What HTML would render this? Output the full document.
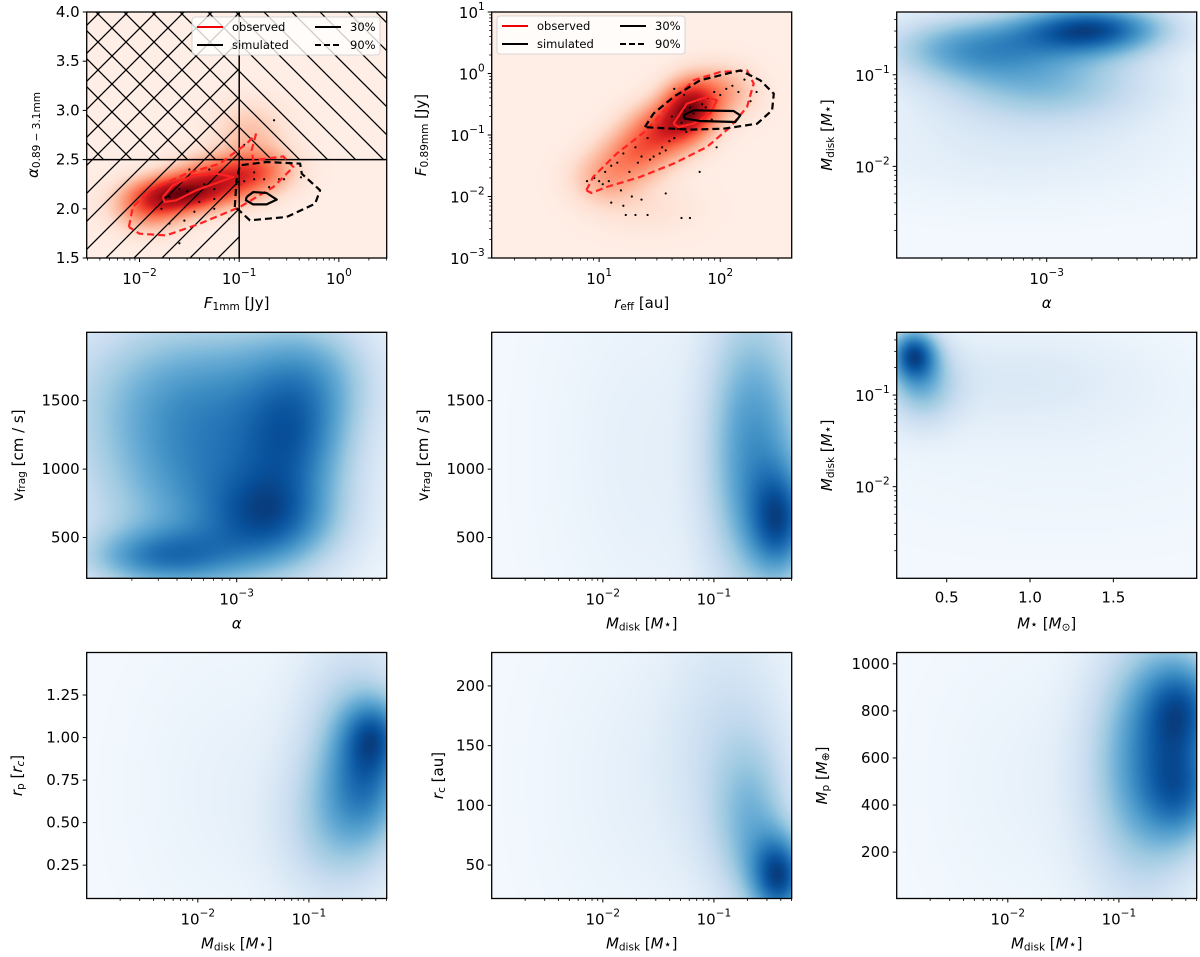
<!DOCTYPE html>
<html><head><meta charset="utf-8">
<style>
html,body{margin:0;padding:0;background:#fff;}
#wrap{position:relative;width:1200px;height:957px;overflow:hidden;}
canvas{position:absolute;}
svg{position:absolute;left:0;top:0;}
text{font-family:"DejaVu Sans","Liberation Sans",sans-serif;fill:#000;}
</style></head>
<body>
<div id="wrap">
<svg id="svg" width="1200" height="957">
<defs>
<pattern id="hatchBack" patternUnits="userSpaceOnUse" width="28" height="28" x="0" y="0">
<path d="M-7,-7 L35,35 M-7,21 L7,35 M21,-7 L35,7" stroke="#000" stroke-width="1.3" fill="none"/>
</pattern>
<pattern id="hatchFwd" patternUnits="userSpaceOnUse" width="28" height="28" x="0" y="0">
<path d="M-7,35 L35,-7 M-7,7 L7,-7 M21,35 L35,21" stroke="#000" stroke-width="1.3" fill="none"/>
</pattern>
</defs>
</svg>
</div>
<script>
// ---------- DATA (log axes in log10 units) ----------
// Panel 1: log10 F1mm vs alpha (red KDE)
const p1BlobX=[-1.6,-1.2,-0.8,-1.9,-0.9];
const p1BlobY=[2.15,2.3,2.4,2.0,2.8];
const p1BlobW=[1.0,0.75,0.5,0.55,0.25];
const p1BlobSX=[0.3,0.3,0.25,0.25,0.25];
const p1BlobSY=[0.13,0.16,0.16,0.16,0.2];
const p1ObsOuterX=[-2.107,-2.067,-1.899,-1.53,-1.195,-0.926,-0.832,-0.876,-0.859,-0.557,-0.456,-0.658,-0.993,-1.396,-1.732,-2.0,-2.107];
const p1ObsOuterY=[1.815,2.018,2.188,2.357,2.459,2.662,2.757,2.594,2.493,2.533,2.425,2.222,2.018,1.849,1.73,1.747,1.815];
const p1ObsInnerX=[-1.765,-1.664,-1.463,-1.228,-1.06,-1.228,-1.43,-1.631,-1.748,-1.765];
const p1ObsInnerY=[2.12,2.238,2.34,2.357,2.323,2.262,2.188,2.086,2.069,2.12];
const p1SimInnerX=[-0.926,-0.859,-0.725,-0.624,-0.725,-0.859,-0.933,-0.926];
const p1SimInnerY=[2.12,2.171,2.161,2.093,2.045,2.045,2.086,2.12];
const p1SimOuterX=[-1.044,-1.027,-0.993,-0.725,-0.389,-0.372,-0.188,-0.238,-0.523,-0.893,-1.0,-1.044];
const p1SimOuterY=[2.018,2.289,2.442,2.476,2.459,2.357,2.188,2.052,1.917,1.883,1.984,2.018];
const p1PtsX=[-1.6,-1.5,-1.52,-1.35,-1.25,-1.1,-1.25,-1.45,-1.7,-1.75,-1.78,-1.7,-1.55,-1.3,-1.5,-1.0,-0.95,-0.85,-0.85,-0.75,-0.7,-0.6,-0.55,-0.65,-0.95,-1.6,-0.38,-1.25,-1.4];
const p1PtsY=[2.2,2.15,2.18,2.25,2.2,1.9,2.0,1.97,2.12,2.12,2.0,1.85,1.88,2.4,2.4,2.25,2.28,2.37,2.3,2.3,2.22,2.3,2.3,2.9,2.65,1.65,2.32,2.1,2.07];
// Panel 2: log10 r_eff vs log10 F0.89mm
const p2BlobX=[1.75,1.55,1.3,1.05,2.0,1.4];
const p2BlobY=[-0.55,-0.9,-1.3,-1.7,-0.3,-2.2];
const p2BlobW=[1.0,0.75,0.5,0.35,0.4,0.1];
const p2BlobSX=[0.15,0.2,0.2,0.2,0.2,0.3];
const p2BlobSY=[0.3,0.3,0.3,0.3,0.3,0.3];
const p2ObsOuterX=[0.895,0.95,1.144,1.392,1.613,1.779,2.0,2.221,2.276,2.221,2.083,1.89,1.613,1.337,1.061,0.936,0.895];
const p2ObsOuterY=[-1.9,-1.683,-1.304,-0.924,-0.436,-0.111,0.024,0.051,-0.165,-0.545,-0.87,-1.195,-1.466,-1.683,-1.846,-1.943,-1.9];
const p2ObsInnerX=[1.613,1.724,1.89,1.972,1.917,1.779,1.655,1.613];
const p2ObsInnerY=[-0.816,-0.491,-0.382,-0.436,-0.653,-0.816,-0.87,-0.816];
const p2SimInnerX=[1.696,1.779,2.11,2.166,2.124,1.834,1.71,1.696];
const p2SimInnerY=[-0.68,-0.599,-0.61,-0.68,-0.789,-0.772,-0.734,-0.68];
const p2SimOuterX=[1.378,1.448,1.613,1.834,2.055,2.166,2.331,2.442,2.428,2.304,2.028,1.751,1.448,1.378];
const p2SimOuterY=[-0.87,-0.653,-0.382,-0.111,-0.003,0.051,-0.111,-0.328,-0.599,-0.816,-0.897,-0.913,-0.881,-0.87];
const p2PtsX=[0.9,0.96,1.0,1.03,1.05,1.08,1.1,1.15,1.18,1.2,1.22,1.25,1.3,1.32,1.35,1.4,1.42,1.45,1.5,1.52,1.55,1.58,1.6,1.62,1.65,1.68,1.7,1.72,1.75,1.78,1.8,1.85,1.9,1.95,2.0,2.05,2.1,2.15,2.2,2.25,1.62,1.7,1.8,1.88,1.93,1.2,1.3,1.27,1.35,1.55,1.68,1.75,1.1,1.4,1.83,1.97,2.3];
const p2PtsY=[-1.75,-1.7,-1.75,-1.8,-1.6,-1.75,-1.5,-1.45,-1.9,-1.3,-2.3,-1.6,-1.2,-1.45,-1.35,-1.05,-1.4,-1.35,-1.3,-1.2,-1.25,-1.1,-0.7,-1.05,-0.9,-0.8,-0.6,-0.95,-0.55,-0.65,-0.45,-0.5,-0.4,-0.3,-0.35,-0.25,-0.2,-0.3,-0.1,-0.45,-0.25,-0.35,-0.15,-0.55,-0.75,-2.15,-2.3,-2.0,-2.05,-1.95,-2.35,-2.35,-2.1,-2.3,-1.6,-1.2,-0.3];
// Panel 3: log10 alpha vs log10 Mdisk
const p3BlobX=[-2.7,-3.5,-3.0,-3.2];
const p3BlobY=[-0.5,-0.7,-1.1,-1.8];
const p3BlobW=[1.0,0.6,0.45,0.12];
const p3BlobSX=[0.35,0.4,0.5,0.8];
const p3BlobSY=[0.2,0.25,0.3,0.4];
// Panel 4: log10 alpha vs vfrag
const p4BlobX=[-2.75,-2.6,-3.5,-3.2,-3.3,-2.5,-3.2];
const p4BlobY=[620,1200,350,900,1600,1700,1100];
const p4BlobW=[0.8,0.6,0.75,0.65,0.5,0.5,0.3];
const p4BlobSX=[0.3,0.25,0.35,0.5,0.6,0.3,0.8];
const p4BlobSY=[250,300,150,500,400,300,900];
// Panel 5: log10 Mdisk vs vfrag
const p5BlobX=[-0.4,-0.5,-0.8,-1.6];
const p5BlobY=[600,1200,1100,1100];
const p5BlobW=[1.0,0.7,0.45,0.12];
const p5BlobSX=[0.2,0.3,0.25,0.6];
const p5BlobSY=[280,700,800,1000];
// Panel 6: Mstar vs log10 Mdisk
const p6BlobX=[0.3,0.35,0.9,1.2];
const p6BlobY=[-0.55,-0.9,-0.8,-1.6];
const p6BlobW=[1.0,0.5,0.15,0.05];
const p6BlobSX=[0.1,0.15,0.6,1.0];
const p6BlobSY=[0.2,0.3,0.4,0.7];
// Panel 7: log10 Mdisk vs rp
const p7BlobX=[-0.4,-0.45,-0.6,-0.8,-1.7];
const p7BlobY=[1.03,0.75,0.95,0.45,0.7];
const p7BlobW=[0.7,0.65,0.6,0.4,0.1];
const p7BlobSX=[0.2,0.25,0.35,0.35,0.6];
const p7BlobSY=[0.15,0.25,0.45,0.3,0.6];
// Panel 8: log10 Mdisk vs rc
const p8BlobX=[-0.4,-0.65,-0.85,-1.7];
const p8BlobY=[40,80,150,120];
const p8BlobW=[1.0,0.45,0.25,0.08];
const p8BlobSX=[0.18,0.25,0.4,0.6];
const p8BlobSY=[25,50,80,100];
// Panel 9: log10 Mdisk vs Mp
const p9BlobX=[-0.4,-0.4,-0.65,-0.9,-1.8];
const p9BlobY=[820,450,650,500,500];
const p9BlobW=[0.7,0.6,0.6,0.3,0.07];
const p9BlobSX=[0.25,0.25,0.35,0.35,0.6];
const p9BlobSY=[150,150,350,400,400];

// ---------- RENDER ----------
const svg=document.getElementById('svg');
const wrap=document.getElementById('wrap');
const NS='http://www.w3.org/2000/svg';
const BLUES=['#f7fbff','#deebf7','#c6dbef','#9ecae1','#6baed6','#4292c6','#2171b5','#08519c','#08306b'];
const REDS=['#fff5f0','#fee0d2','#fcbba1','#fc9272','#fb6a4a','#ef3b2c','#cb181d','#a50f15','#67000d'];
function hex(c){return [parseInt(c.substr(1,2),16),parseInt(c.substr(3,2),16),parseInt(c.substr(5,2),16)];}
function cmap(arr,t){t=Math.max(0,Math.min(1,t));const f=t*(arr.length-1);const i=Math.min(arr.length-2,Math.floor(f));const r=f-i;const a=hex(arr[i]),b=hex(arr[i+1]);return [a[0]+(b[0]-a[0])*r,a[1]+(b[1]-a[1])*r,a[2]+(b[2]-a[2])*r];}
function el(tag,attrs,parent){const e=document.createElementNS(NS,tag);for(const k in attrs)e.setAttribute(k,attrs[k]);(parent||svg).appendChild(e);return e;}

const COLX=[86.7,491.7,896.7],ROWY=[12,332.3,652.5],PW=300,PH=246;
function lin(d0,d1,p0,p1){return v=>p0+(v-d0)/(d1-d0)*(p1-p0);}
const MD=[['i','M'],['s','disk'],['n',' ['],['i','M'],['ss','⋆'],['n',']']];

const panels=[
 {name:'flux-alpha',c:0,r:0,xd:[-2.53,0.48],yd:[1.5,4.0],xlog:true,ylog:false,xt:[-2,-1,0],yt:[1.5,2.0,2.5,3.0,3.5,4.0],ytf:v=>v.toFixed(1),
  bx:p1BlobX,by:p1BlobY,bw:p1BlobW,bsx:p1BlobSX,bsy:p1BlobSY,cm:REDS,base:0.04,gain:1.0,
  xl:[['i','F'],['s','1mm'],['n',' [Jy]']],yl:[['i','α'],['s','0.89 − 3.1mm']],ylx:33},
 {name:'radius-flux',c:1,r:0,xd:[0.113,2.59],yd:[-3,1],xlog:true,ylog:true,xt:[1,2],yt:[-3,-2,-1,0,1],
  bx:p2BlobX,by:p2BlobY,bw:p2BlobW,bsx:p2BlobSX,bsy:p2BlobSY,cm:REDS,base:0.04,gain:1.0,
  xl:[['i','r'],['s','eff'],['n',' [au]']],yl:[['i','F'],['s','0.89mm'],['n',' [Jy]']],ylx:421},
 {name:'alpha-mdisk',c:2,r:0,xd:[-4,-2],yd:[-3,-0.315],xlog:true,ylog:true,xt:[-3],yt:[-2,-1],
  bx:p3BlobX,by:p3BlobY,bw:p3BlobW,bsx:p3BlobSX,bsy:p3BlobSY,cm:BLUES,base:0.02,gain:0.95,
  xl:[['i','α']],yl:MD,ylx:827},
 {name:'alpha-vfrag',c:0,r:1,xd:[-4,-2],yd:[202,2000],xlog:true,ylog:false,xt:[-3],yt:[500,1000,1500],ytf:v=>String(v),
  bx:p4BlobX,by:p4BlobY,bw:p4BlobW,bsx:p4BlobSX,bsy:p4BlobSY,cm:BLUES,base:0.0,gain:0.95,
  xl:[['i','α']],yl:[['n','v'],['s','frag'],['n',' [cm / s]']],ylx:18},
 {name:'mdisk-vfrag',c:1,r:1,xd:[-3,-0.3],yd:[202,2000],xlog:true,ylog:false,xt:[-2,-1],yt:[500,1000,1500],ytf:v=>String(v),
  bx:p5BlobX,by:p5BlobY,bw:p5BlobW,bsx:p5BlobSX,bsy:p5BlobSY,cm:BLUES,base:0.02,gain:0.95,
  xl:MD,yl:[['n','v'],['s','frag'],['n',' [cm / s]']],ylx:423},
 {name:'mstar-mdisk',c:2,r:1,xd:[0.2,2.0],yd:[-3,-0.315],xlog:false,ylog:true,xt:[0.5,1.0,1.5],xtf:v=>v.toFixed(1),yt:[-2,-1],
  bx:p6BlobX,by:p6BlobY,bw:p6BlobW,bsx:p6BlobSX,bsy:p6BlobSY,cm:BLUES,base:0.02,gain:0.95,
  xl:[['i','M'],['ss','⋆'],['n',' ['],['i','M'],['s','⊙'],['n',']']],yl:MD,ylx:827},
 {name:'mdisk-rp',c:0,r:2,xd:[-3,-0.3],yd:[0.054,1.5],xlog:true,ylog:false,xt:[-2,-1],yt:[0.25,0.5,0.75,1.0,1.25],ytf:v=>v.toFixed(2),
  bx:p7BlobX,by:p7BlobY,bw:p7BlobW,bsx:p7BlobSX,bsy:p7BlobSY,cm:BLUES,base:0.02,gain:0.95,
  xl:MD,yl:[['i','r'],['s','p'],['n',' ['],['i','r'],['si','c'],['n',']']],ylx:17},
 {name:'mdisk-rc',c:1,r:2,xd:[-3,-0.3],yd:[22,228],xlog:true,ylog:false,xt:[-2,-1],yt:[50,100,150,200],ytf:v=>String(v),
  bx:p8BlobX,by:p8BlobY,bw:p8BlobW,bsx:p8BlobSX,bsy:p8BlobSY,cm:BLUES,base:0.02,gain:0.95,
  xl:MD,yl:[['i','r'],['s','c'],['n',' [au]']],ylx:438},
 {name:'mdisk-mp',c:2,r:2,xd:[-3,-0.3],yd:[3,1048],xlog:true,ylog:false,xt:[-2,-1],yt:[200,400,600,800,1000],ytf:v=>String(v),
  bx:p9BlobX,by:p9BlobY,bw:p9BlobW,bsx:p9BlobSX,bsy:p9BlobSY,cm:BLUES,base:0.02,gain:0.95,
  xl:MD,yl:[['i','M'],['s','p'],['n',' ['],['i','M'],['s','⊕'],['n',']']],ylx:822}
];

function addLabel(g,parts,x,y,rot,size){
  const t=el('text',{x:x,y:y,'font-size':size,'text-anchor':'middle','dominant-baseline':'central'},g);
  if(rot)t.setAttribute('transform','rotate(-90 '+x+' '+y+')');
  let shift=0;
  parts.forEach(p=>{
    const s=document.createElementNS(NS,'tspan');
    s.textContent=p[1];
    let ns=0;
    if(p[0]==='i')s.setAttribute('font-style','italic');
    if(p[0]==='s'||p[0]==='si'){ns=4;s.setAttribute('font-size',size*0.7);if(p[0]==='si')s.setAttribute('font-style','italic');}
    if(p[0]==='ss'){ns=1;s.setAttribute('font-size',size*0.85);}
    if(ns!==shift){s.setAttribute('dy',ns-shift);shift=ns;}
    t.appendChild(s);
  });
  return t;
}
function powLabel(g,x,y,e,anchor){
  const t=el('text',{x:x,y:y,'font-size':15,'text-anchor':anchor,'dominant-baseline':'central'},g);
  const a=document.createElementNS(NS,'tspan');a.textContent='10';t.appendChild(a);
  const b=document.createElementNS(NS,'tspan');b.textContent=(e<0?'−':'')+Math.abs(e);b.setAttribute('font-size',10.5);b.setAttribute('dy',-6);t.appendChild(b);
  return t;
}

panels.forEach((p,pi)=>{
  const L=COLX[p.c],T=ROWY[p.r],R=L+PW,B=T+PH;
  const sx=lin(p.xd[0],p.xd[1],L,R), sy=lin(p.yd[0],p.yd[1],B,T);
  const cv=document.createElement('canvas');
  cv.width=PW;cv.height=PH;cv.style.left=L+'px';cv.style.top=T+'px';
  
  
  wrap.insertBefore(cv,svg);
  const ctx=cv.getContext('2d');const img=ctx.createImageData(PW,PH);
  const dens=new Float32Array(PW*PH);let mx=0;
  for(let j=0;j<PH;j++){
    const yv=p.yd[1]+(j+0.5)/PH*(p.yd[0]-p.yd[1]);
    for(let i=0;i<PW;i++){
      const xv=p.xd[0]+(i+0.5)/PW*(p.xd[1]-p.xd[0]);
      let d=0;
      for(let k=0;k<p.bx.length;k++){const dx=(xv-p.bx[k])/p.bsx[k],dy=(yv-p.by[k])/p.bsy[k];d+=p.bw[k]*Math.exp(-0.5*(dx*dx+dy*dy));}
      dens[j*PW+i]=d;if(d>mx)mx=d;
    }
  }
  for(let n=0;n<PW*PH;n++){
    const c=cmap(p.cm,p.base+(1-p.base)*dens[n]/mx*p.gain);const o=n*4;
    img.data[o]=c[0];img.data[o+1]=c[1];img.data[o+2]=c[2];img.data[o+3]=255;
  }
  ctx.putImageData(img,0,0);
  const g=el('g',{});
  
  
  const cp=el('clipPath',{id:'clip'+pi},g);el('rect',{x:L,y:T,width:PW,height:PH},cp);
  const plot=el('g',{'clip-path':'url(#clip'+pi+')'},g);
  
  
  p.sx=sx;p.sy=sy;p.plot=plot;p.L=L;p.T=T;p.R=R;p.B=B;
  const fr=el('rect',{x:L,y:T,width:PW,height:PH,fill:'none',stroke:'#000','stroke-width':1.3},g);
  
  
  const xa=el('g',{},g);
  
  
  p.xt.forEach(v=>{
    const x=sx(v);el('line',{x1:x,y1:B,x2:x,y2:B+4,stroke:'#000','stroke-width':1},xa);
    if(p.xlog)powLabel(xa,x,B+21,v,'middle');else el('text',{x:x,y:B+19,'font-size':15,'text-anchor':'middle','dominant-baseline':'central'},xa).textContent=p.xtf(v);
  });
  if(p.xlog){for(let d=Math.floor(p.xd[0]);d<p.xd[1];d++)for(let m=2;m<10;m++){const v=d+Math.log10(m);if(v>p.xd[0]&&v<p.xd[1]){const x=sx(v);el('line',{x1:x,y1:B,x2:x,y2:B+2.5,stroke:'#000','stroke-width':0.8},xa);}}}
  const ya=el('g',{},g);
  
  
  p.yt.forEach(v=>{
    const y=sy(v);el('line',{x1:L-4,y1:y,x2:L,y2:y,stroke:'#000','stroke-width':1},ya);
    if(p.ylog)powLabel(ya,L-7,y+1,v,'end');else el('text',{x:L-7,y:y,'font-size':15,'text-anchor':'end','dominant-baseline':'central'},ya).textContent=p.ytf(v);
  });
  if(p.ylog){for(let d=Math.floor(p.yd[0]);d<p.yd[1];d++)for(let m=2;m<10;m++){const v=d+Math.log10(m);if(v>p.yd[0]&&v<p.yd[1]){const y=sy(v);el('line',{x1:L-2.5,y1:y,x2:L,y2:y,stroke:'#000','stroke-width':0.8},ya);}}}
  const xl=addLabel(g,p.xl,(L+R)/2,B+45,false,15);
  
  
  const yl=addLabel(g,p.yl,p.ylx,(T+B)/2,true,15);
  
  
});

(function(){
  const p=panels[0],pl=p.plot;
  const xc=p.sx(-1),yc=p.sy(2.5);
  const h1=el('rect',{x:p.L,y:p.T,width:p.R-p.L,height:yc-p.T,fill:'url(#hatchBack)'},pl);
  
  
  const h2=el('rect',{x:p.L,y:p.T,width:xc-p.L,height:p.B-p.T,fill:'url(#hatchFwd)'},pl);
  
  
  const l1=el('line',{x1:xc,y1:p.T,x2:xc,y2:p.B,stroke:'#000','stroke-width':1.5},pl);
  
  
  const l2=el('line',{x1:p.L,y1:yc,x2:p.R,y2:yc,stroke:'#000','stroke-width':1.5},pl);
  
  
})();

function contour(p,xs,ys,color,dash,name){
  const d=xs.map((v,i)=>(i?'L':'M')+p.sx(v).toFixed(1)+','+p.sy(ys[i]).toFixed(1)).join(' ');
  const e=el('path',{d:d,fill:'none',stroke:color,'stroke-width':2.2,'stroke-dasharray':dash?'7,4':'none','stroke-linejoin':'round'},p.plot);
  
  
}
function points(p,xs,ys,name){
  const g=el('g',{},p.plot);
  
  
  xs.forEach((v,i)=>el('circle',{cx:p.sx(v),cy:p.sy(ys[i]),r:1.1,fill:'#000'},g));
}
function legend(p,x,y){
  const g=el('g',{},svg);
  
  
  el('rect',{x:x,y:y,width:188,height:38,rx:3,fill:'#fff','fill-opacity':0.8,stroke:'#ccc','stroke-width':0.8},g);
  const rows=[['#e00','none','observed',0,0],['#000','none','simulated',0,1],['#000','none','30%',1,0],['#000','6,3','90%',1,1]];
  rows.forEach(r=>{
    const lx=x+5+r[3]*118,ly=y+10+r[4]*18;
    const ent=el('g',{},g);
    
    
    el('line',{x1:lx,y1:ly,x2:lx+26,y2:ly,stroke:r[0],'stroke-width':2,'stroke-dasharray':r[1]},ent);
    el('text',{x:lx+35,y:ly,'font-size':11.5,'dominant-baseline':'central'},ent).textContent=r[2];
  });
}
[[0,p1ObsOuterX,p1ObsOuterY,p1ObsInnerX,p1ObsInnerY,p1SimOuterX,p1SimOuterY,p1SimInnerX,p1SimInnerY,p1PtsX,p1PtsY],
 [1,p2ObsOuterX,p2ObsOuterY,p2ObsInnerX,p2ObsInnerY,p2SimOuterX,p2SimOuterY,p2SimInnerX,p2SimInnerY,p2PtsX,p2PtsY]].forEach(a=>{
  const p=panels[a[0]];
  points(p,a[9],a[10],'observed-points');
  contour(p,a[1],a[2],'#f22',true,'observed-90pct-contour');
  contour(p,a[3],a[4],'#f22',false,'observed-30pct-contour');
  contour(p,a[5],a[6],'#000',true,'simulated-90pct-contour');
  contour(p,a[7],a[8],'#000',false,'simulated-30pct-contour');
});
legend(panels[0],192,17);
legend(panels[1],497,16);
</script>
</body></html>
